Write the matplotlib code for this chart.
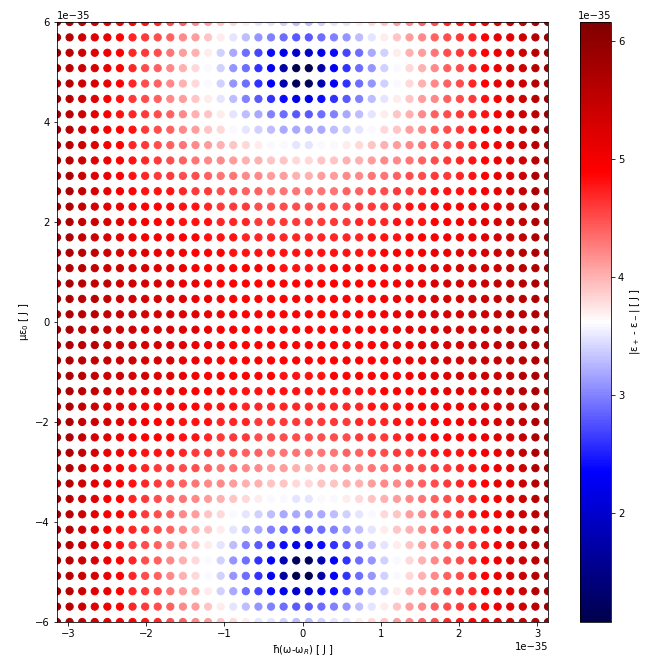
import numpy as np
import matplotlib
matplotlib.use("Agg")
import matplotlib.pyplot as plt

# Grid of the scan (units of J)
x_min, x_max, n_x = -np.pi * 1e-35, np.pi * 1e-35, 40
y_min, y_max, n_y = -6e-35, 6e-35, 40

# |eps+ - eps-|, in units of 0.1e-35 J.
# Row 0 is the top row (y = +6e-35), column 0 is the left column (x = -pi e-35).
gap_rows = [
    "60 57 55 54 52 50 49 48 47 45 44 42 41 39 38 37 35 35 34 33 33 34 35 35 37 38 39 41 42 44 45 47 48 49 50 52 54 55 57 60",
    "59 56 54 52 51 49 47 46 45 44 42 41 39 37 35 33 31 30 29 28 28 29 30 31 33 35 37 39 41 42 44 45 46 47 49 51 52 54 56 59",
    "59 56 54 52 51 49 47 46 45 43 41 40 37 34 32 29 27 24 22 20 20 22 24 27 29 32 34 37 40 41 43 45 46 47 49 51 52 54 56 59",
    "59 56 54 53 51 49 47 45 44 42 40 38 36 34 31 29 26 23 17 11 11 17 23 26 29 31 34 36 38 40 42 44 45 47 49 51 53 54 56 59",
    "59 56 54 53 51 49 47 45 44 42 40 38 36 34 31 29 26 23 18 12 12 18 23 26 29 31 34 36 38 40 42 44 45 47 49 51 53 54 56 59",
    "59 56 54 52 50 48 46 45 44 42 41 39 37 35 33 30 28 26 24 22 22 24 26 28 30 33 35 37 39 41 42 44 45 46 48 50 52 54 56 59",
    "59 56 54 52 50 48 47 46 45 44 42 40 39 37 35 33 32 30 29 28 28 29 30 32 33 35 37 39 40 42 44 45 46 47 48 50 52 54 56 59",
    "59 56 54 52 50 49 48 46 45 44 42 41 39 38 36 35 34 33 32 32 32 32 33 34 35 36 38 39 41 42 44 45 46 48 49 50 52 54 56 59",
    "59 56 54 52 50 49 47 46 45 44 43 42 41 40 39 38 37 36 36 35 35 36 36 37 38 39 40 41 42 43 44 45 46 47 49 50 52 54 56 59",
    "59 56 54 52 51 49 48 47 46 45 44 43 42 42 41 40 40 39 39 38 38 39 39 40 40 41 42 42 43 44 45 46 47 48 49 51 52 54 56 59",
    "59 57 54 52 51 49 48 47 46 46 45 45 44 43 43 42 42 41 41 40 40 41 41 42 42 43 43 44 45 45 46 46 47 48 49 51 52 54 57 59",
    "59 57 55 53 51 50 49 48 48 48 47 46 46 45 45 44 44 43 43 43 43 43 43 44 44 45 45 46 46 47 48 48 48 49 50 51 53 55 57 59",
    "59 57 55 53 52 51 50 49 49 49 48 48 47 46 46 46 45 45 45 45 45 45 45 45 46 46 46 47 48 48 49 49 49 50 51 52 53 55 57 59",
    "59 57 55 54 53 52 51 50 49 49 48 48 48 47 47 47 46 46 46 46 46 46 46 46 47 47 47 48 48 48 49 49 50 51 52 53 54 55 57 59",
    "59 57 55 54 53 52 51 50 50 50 49 49 48 48 48 47 47 47 47 47 47 47 47 47 47 48 48 48 49 49 50 50 50 51 52 53 54 55 57 59",
    "59 57 56 55 54 53 52 52 51 51 50 49 49 49 48 48 48 48 48 48 48 48 48 48 48 48 49 49 49 50 51 51 52 52 53 54 55 56 57 59",
    "59 57 56 55 54 54 53 53 52 52 51 50 49 49 49 49 49 49 48 48 48 48 49 49 49 49 49 49 50 51 52 52 53 53 54 54 55 56 57 59",
    "59 57 56 55 55 54 54 53 53 53 51 51 50 49 49 49 49 49 49 49 49 49 49 49 49 49 49 50 51 51 53 53 53 54 54 55 55 56 57 59",
    "59 57 56 56 55 54 54 53 53 53 52 51 51 50 49 49 49 49 49 49 49 49 49 49 49 49 50 51 51 52 53 53 53 54 54 55 56 56 57 59",
    "59 57 56 56 55 54 54 53 53 53 52 52 51 50 50 49 49 49 49 49 49 49 49 49 49 50 50 51 52 52 53 53 53 54 54 55 56 56 57 59",
    "59 57 56 56 55 54 54 53 53 53 52 52 51 50 50 49 49 49 49 49 49 49 49 49 49 50 50 51 52 52 53 53 53 54 54 55 56 56 57 59",
    "59 57 56 56 55 54 54 53 53 53 52 51 51 50 49 49 49 49 49 49 49 49 49 49 49 49 50 51 51 52 53 53 53 54 54 55 56 56 57 59",
    "59 57 56 55 55 54 54 53 53 53 51 51 50 49 49 49 49 49 49 49 49 49 49 49 49 49 49 50 51 51 53 53 53 54 54 55 55 56 57 59",
    "59 57 56 55 54 54 53 53 52 52 51 50 49 49 49 49 49 49 48 48 48 48 49 49 49 49 49 49 50 51 52 52 53 53 54 54 55 56 57 59",
    "59 57 56 55 54 53 52 52 51 51 50 49 49 49 48 48 48 48 48 48 48 48 48 48 48 48 49 49 49 50 51 51 52 52 53 54 55 56 57 59",
    "59 57 55 54 53 52 51 50 50 50 49 49 48 48 48 47 47 47 47 47 47 47 47 47 47 48 48 48 49 49 50 50 50 51 52 53 54 55 57 59",
    "59 57 55 54 53 52 51 50 49 49 48 48 48 47 47 47 46 46 46 46 46 46 46 46 47 47 47 48 48 48 49 49 50 51 52 53 54 55 57 59",
    "59 57 55 53 52 51 50 49 49 49 48 48 47 46 46 46 45 45 45 45 45 45 45 45 46 46 46 47 48 48 49 49 49 50 51 52 53 55 57 59",
    "59 57 55 53 51 50 49 48 48 48 47 46 46 45 45 44 44 43 43 43 43 43 43 44 44 45 45 46 46 47 48 48 48 49 50 51 53 55 57 59",
    "59 57 54 52 51 49 48 47 46 46 45 45 44 43 43 42 42 41 41 40 40 41 41 42 42 43 43 44 45 45 46 46 47 48 49 51 52 54 57 59",
    "59 56 54 52 51 49 48 47 46 45 44 43 42 42 41 40 40 39 39 38 38 39 39 40 40 41 42 42 43 44 45 46 47 48 49 51 52 54 56 59",
    "59 56 54 52 50 49 47 46 45 44 43 42 41 40 39 38 37 36 36 35 35 36 36 37 38 39 40 41 42 43 44 45 46 47 49 50 52 54 56 59",
    "59 56 54 52 50 49 48 46 45 44 42 41 39 38 36 35 34 33 32 32 32 32 33 34 35 36 38 39 41 42 44 45 46 48 49 50 52 54 56 59",
    "59 56 54 52 50 48 47 46 45 44 42 40 39 37 35 33 32 30 29 28 28 29 30 32 33 35 37 39 40 42 44 45 46 47 48 50 52 54 56 59",
    "59 56 54 52 50 48 46 45 44 42 41 39 37 35 33 30 28 26 24 22 22 24 26 28 30 33 35 37 39 41 42 44 45 46 48 50 52 54 56 59",
    "59 56 54 53 51 49 47 45 44 42 40 38 36 34 31 29 26 23 18 12 12 18 23 26 29 31 34 36 38 40 42 44 45 47 49 51 53 54 56 59",
    "59 56 54 53 51 49 47 45 44 42 40 38 36 34 31 29 26 23 17 11 11 17 23 26 29 31 34 36 38 40 42 44 45 47 49 51 53 54 56 59",
    "59 56 54 52 51 49 47 46 45 43 41 40 37 34 32 29 27 24 22 20 20 22 24 27 29 32 34 37 40 41 43 45 46 47 49 51 52 54 56 59",
    "59 56 54 52 51 49 47 46 45 44 42 41 39 37 35 33 31 30 29 28 28 29 30 31 33 35 37 39 41 42 44 45 46 47 49 51 52 54 56 59",
    "60 57 55 54 52 50 49 48 47 45 44 42 41 39 38 37 35 35 34 33 33 34 35 35 37 38 39 41 42 44 45 47 48 49 50 52 54 55 57 60",
]

# colour scale limits (J)
c_min, c_max = 1.075e-35, 6.165e-35

gap = np.array([[float(v) for v in row.split()] for row in gap_rows]) * 0.1e-35
xs = np.linspace(x_min, x_max, n_x)
ys = np.linspace(y_max, y_min, n_y)
X, Y = np.meshgrid(xs, ys)

W, H, DPI = 646, 663, 72
fig = plt.figure(figsize=(W / DPI, H / DPI), dpi=DPI)
ax = fig.add_axes([57 / W, 1 - 622 / H, (548 - 57) / W, (622 - 22) / H])
cax = fig.add_axes([580 / W, 1 - 622 / H, (611 - 580) / W, (622 - 22) / H])

sc = ax.scatter(X.ravel(), Y.ravel(), c=gap.ravel(), cmap="seismic",
                vmin=c_min, vmax=c_max, s=52)
ax.set_xlim(x_min, x_max)
ax.set_ylim(y_min, y_max)
ax.set_xlabel(r"ħ(ω-ω$_R$) [ J ]")
ax.set_ylabel(r"με$_0$ [ J ]")

cb = fig.colorbar(sc, cax=cax)
cb.set_label(r"|ε$_+$ - ε$_-$| [ J ]")

fig.savefig("out.png", dpi=DPI)
